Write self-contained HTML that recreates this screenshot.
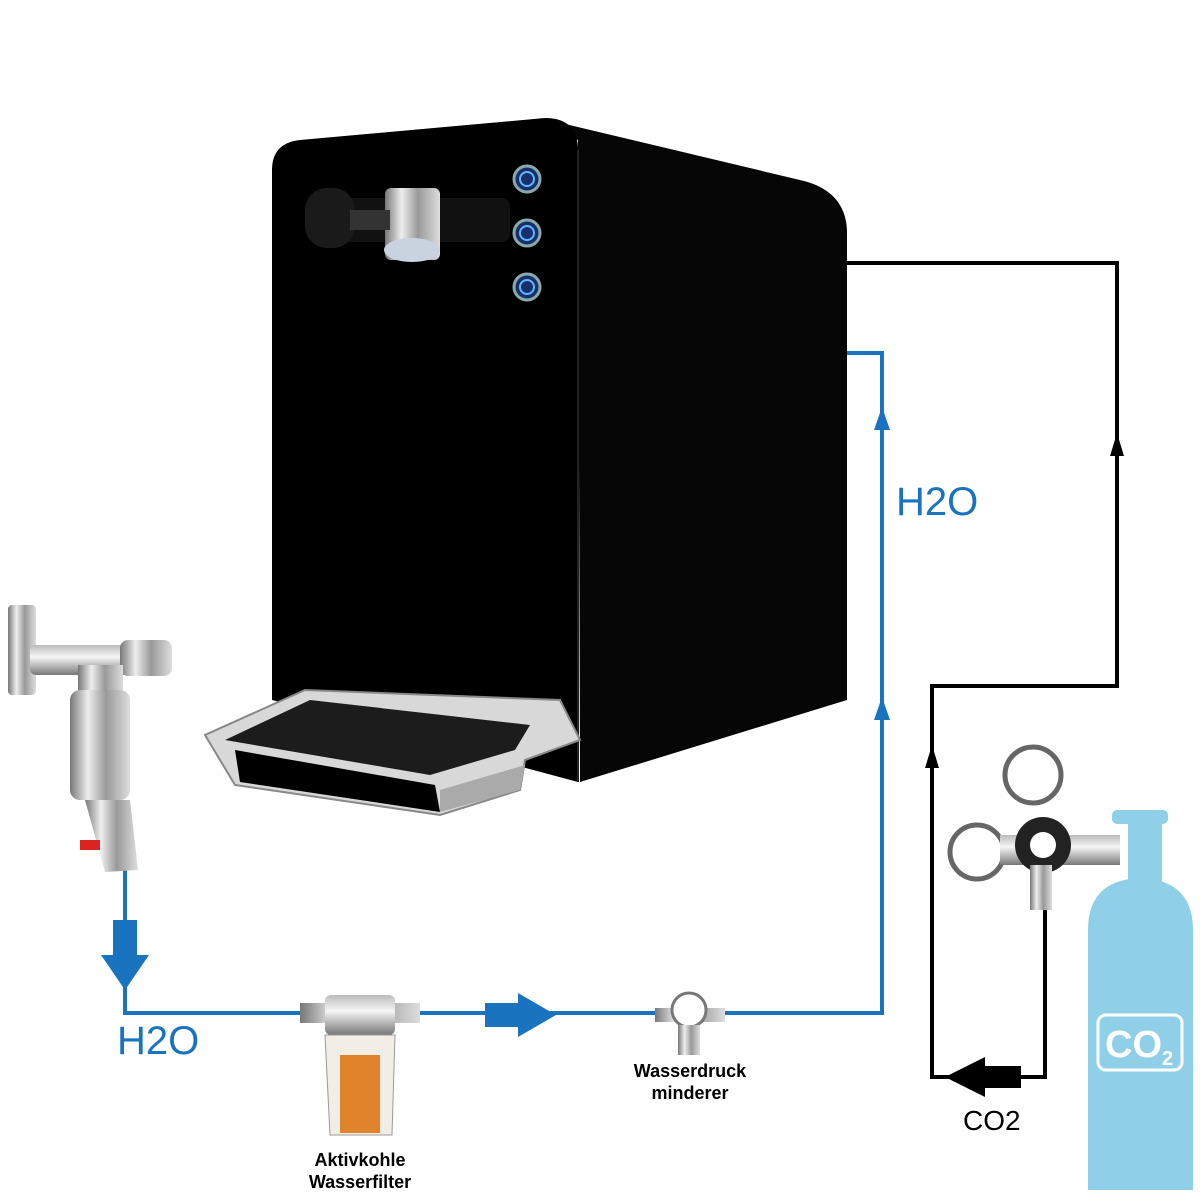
<!DOCTYPE html>
<html><head><meta charset="utf-8"><style>
html,body{margin:0;padding:0;background:#fff;}
svg{display:block}
text{font-family:"Liberation Sans",sans-serif}
</style></head><body>
<svg width="1200" height="1200" viewBox="0 0 1200 1200" xmlns="http://www.w3.org/2000/svg">
<defs>
<linearGradient id="chrome" x1="0" x2="1" y1="0" y2="0">
<stop offset="0" stop-color="#777"/><stop offset="0.3" stop-color="#eee"/><stop offset="0.6" stop-color="#999"/><stop offset="1" stop-color="#ddd"/>
</linearGradient>
<linearGradient id="chromev" x1="0" x2="0" y1="0" y2="1">
<stop offset="0" stop-color="#bbb"/><stop offset="0.4" stop-color="#f5f5f5"/><stop offset="1" stop-color="#777"/>
</linearGradient>
</defs>

<!-- machine side -->
<path d="M540,118 L800,180 Q845,190 847,230 L847,700 L580,782 L578,140 Z" fill="#060606"/>
<!-- machine front -->
<path d="M300,140 L545,118 Q578,118 578,150 L578,782 L272,700 L272,170 Q272,143 300,140 Z" fill="#000"/>
<path d="M578,150 L578,782" stroke="#222" stroke-width="2"/>
<!-- tap -->
<rect x="330" y="198" width="180" height="44" rx="8" fill="#111"/>
<rect x="385" y="188" width="55" height="72" rx="6" fill="url(#chrome)"/>
<ellipse cx="412" cy="250" rx="28" ry="12" fill="#c9d3e0"/>
<rect x="305" y="188" width="50" height="60" rx="22" fill="#1a1a1a"/>
<rect x="350" y="210" width="40" height="20" fill="#333"/>
<!-- buttons -->
<g fill="#1a2f6a" stroke="#8aa" stroke-width="3">
<circle cx="527" cy="179" r="13"/><circle cx="527" cy="233" r="13"/><circle cx="527" cy="287" r="13"/>
</g>
<g fill="none" stroke="#5bb8ff" stroke-width="2">
<circle cx="527" cy="179" r="7"/><circle cx="527" cy="233" r="7"/><circle cx="527" cy="287" r="7"/>
</g>
<!-- drip tray -->
<path d="M305,690 L560,700 L580,740 L525,760 L520,790 L440,815 L235,785 L205,735 Z" fill="#d8d8d8" stroke="#888" stroke-width="2"/>
<path d="M225,740 L430,775 L515,750 L530,725 L310,700 Z" fill="#1c1c1c"/>
<path d="M235,750 L435,785 L440,812 L240,782 Z" fill="#000"/>
<path d="M440,790 L525,765 L520,790 L440,812 Z" fill="#aaa"/>

<!-- black CO2 line -->
<polyline points="847,263 1117,263 1117,686 932,686 932,1077 1045,1077 1045,905" fill="none" stroke="#000" stroke-width="4"/>
<polygon points="1117,433 1110,456 1124,456" fill="#000"/>
<polygon points="932,745 925,768 939,768" fill="#000"/>
<polygon points="945,1077 985,1057 985,1097" fill="#000"/>
<rect x="983" y="1066" width="38" height="22" fill="#000"/>

<!-- blue water line -->
<polyline points="847,353 882,353 882,1013 125,1013 125,870" fill="none" stroke="#1a73bf" stroke-width="4"/>
<polygon points="882,407 874,430 890,430" fill="#1a73bf"/>
<polygon points="882,697 874,720 890,720" fill="#1a73bf"/>
<rect x="113" y="920" width="24" height="38" fill="#1a73bf"/>
<polygon points="101,955 149,955 125,990" fill="#1a73bf"/>
<rect x="485" y="1003" width="36" height="24" fill="#1a73bf"/>
<polygon points="518,993 518,1037 556,1015" fill="#1a73bf"/>

<text x="896" y="515" font-size="40" fill="#1a73bf">H2O</text>
<text x="117" y="1054" font-size="40" fill="#1a73bf">H2O</text>
<text x="963" y="1130" font-size="28" fill="#000">CO2</text>
<text x="360" y="1166" font-size="18" font-weight="bold" text-anchor="middle">Aktivkohle</text>
<text x="360" y="1188" font-size="18" font-weight="bold" text-anchor="middle">Wasserfilter</text>
<text x="690" y="1077" font-size="18" font-weight="bold" text-anchor="middle">Wasserdruck</text>
<text x="690" y="1099" font-size="18" font-weight="bold" text-anchor="middle">minderer</text>

<!-- faucet valve -->
<rect x="8" y="605" width="28" height="90" rx="4" fill="url(#chrome)"/>
<rect x="30" y="645" width="110" height="30" rx="6" fill="url(#chromev)"/>
<rect x="120" y="640" width="52" height="36" rx="8" fill="url(#chrome)"/>
<rect x="78" y="665" width="45" height="30" fill="url(#chrome)"/>
<rect x="70" y="690" width="60" height="110" rx="10" fill="url(#chrome)"/>
<path d="M85,800 L130,800 L138,870 L105,872 Z" fill="url(#chrome)"/>
<rect x="80" y="840" width="20" height="10" fill="#d22"/>

<!-- water filter -->
<rect x="300" y="1003" width="120" height="20" fill="url(#chrome)"/>
<rect x="325" y="995" width="70" height="40" rx="6" fill="url(#chromev)"/>
<path d="M325,1035 L395,1035 L392,1135 L330,1135 Z" fill="#f2eee6" stroke="#999"/>
<rect x="340" y="1055" width="40" height="78" fill="#e0832a"/>

<!-- pressure reducer -->
<rect x="655" y="1008" width="70" height="14" fill="url(#chrome)"/>
<circle cx="689" cy="1010" r="17" fill="#fff" stroke="#777" stroke-width="3"/>
<rect x="678" y="1025" width="22" height="30" fill="url(#chrome)"/>

<!-- CO2 regulator -->
<circle cx="1033" cy="775" r="28" fill="#fff" stroke="#666" stroke-width="5"/>
<circle cx="977" cy="852" r="27" fill="#fff" stroke="#666" stroke-width="5"/>
<rect x="1000" y="835" width="120" height="30" fill="url(#chromev)"/>
<circle cx="1043" cy="845" r="28" fill="#222"/>
<circle cx="1043" cy="845" r="13" fill="#fff"/>
<rect x="1030" y="865" width="22" height="45" fill="url(#chrome)"/>

<!-- CO2 cylinder -->
<rect x="1128" y="820" width="34" height="70" fill="#8fd0e8"/>
<rect x="1112" y="810" width="56" height="14" rx="5" fill="#8fd0e8"/>
<path d="M1088,930 Q1088,880 1140,878 Q1193,880 1193,930 L1193,1190 L1088,1190 Z" fill="#8fd0e8"/>
<rect x="1098" y="1015" width="84" height="55" rx="8" fill="none" stroke="#fff" stroke-width="3"/>
<text x="1105" y="1057" font-size="38" font-weight="bold" fill="#fff">CO<tspan font-size="20" dy="8">2</tspan></text>
</svg>
</body></html>
